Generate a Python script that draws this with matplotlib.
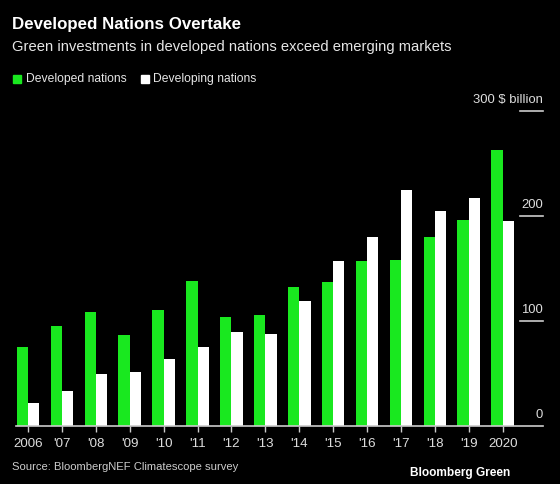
import numpy as np
import matplotlib
matplotlib.use("Agg")
import matplotlib.pyplot as plt

# Data ($ billion)
years = ["2006", "'07", "'08", "'09", "'10", "'11", "'12", "'13",
         "'14", "'15", "'16", "'17", "'18", "'19", "2020"]
developed = [75, 95, 108, 86, 110, 138, 104, 106, 132, 137, 157, 158, 180, 196, 263]
developing = [22, 33, 49, 51, 64, 75, 89, 87, 119, 157, 180, 225, 205, 217, 195]
y_ticks = [0, 100, 200, 300]
y_labels = ["0", "100", "200", "300 $ billion"]

green = "#19e81f"
white = "#ffffff"
bg = "#000000"

plt.rcParams['font.family'] = ['Liberation Sans', 'DejaVu Sans']

fig = plt.figure(figsize=(5.6, 4.85), dpi=100, facecolor=bg)
ax = fig.add_axes([0.0286, 0.1202, 0.941, 0.6489], facecolor=bg)

x = np.arange(len(years))
w = 0.333
ax.bar(x - w / 2, developed, width=w, color=green, linewidth=0)
ax.bar(x + w / 2, developing, width=w, color=white, linewidth=0)

ax.set_xlim(-0.354, 15.19)
ax.set_ylim(0, 300)

for s in ax.spines.values():
    s.set_visible(False)

# short grid stubs + labels on the right
for t, lab in zip(y_ticks, y_labels):
    ax.axhline(t, xmin=0.0 if t == 0 else 0.956, xmax=1, color="#cccccc", lw=1.2, clip_on=False)
    ax.annotate(lab, xy=(1, t), xycoords=("axes fraction", "data"),
                xytext=(0, 4), textcoords="offset points",
                ha="right", va="bottom", color="#dddddd", fontsize=9.4)

ax.set_yticks([])
ax.set_xticks(x)
ax.set_xticklabels(years)
ax.tick_params(axis="x", colors="#cccccc", labelcolor="#dddddd", length=4, width=1,
               labelsize=9.6, pad=4)

# header
fig.text(12 / 560, 1 - 25 / 485, "Developed Nations Overtake", color="white",
         fontsize=12.2, fontweight="bold", va="center", ha="left")
fig.text(12 / 560, 1 - 47 / 485, "Green investments in developed nations exceed emerging markets",
         color="#e6e6e6", fontsize=10.6, va="center", ha="left")

# legend
fig.patches.append(plt.Rectangle((13 / 560, 1 - 83.5 / 485), 8 / 560, 8 / 485,
                                 transform=fig.transFigure, color=green))
fig.text(26 / 560, 1 - 79 / 485, "Developed nations", color="#e6e6e6", fontsize=8.7,
         va="center", ha="left")
fig.patches.append(plt.Rectangle((141 / 560, 1 - 83.5 / 485), 8 / 560, 8 / 485,
                                 transform=fig.transFigure, color=white))
fig.text(153 / 560, 1 - 79 / 485, "Developing nations", color="#e6e6e6", fontsize=8.7,
         va="center", ha="left")

# footer
fig.text(12 / 560, 1 - 467 / 485, "Source: BloombergNEF Climatescope survey",
         color="#cccccc", fontsize=8.1, va="center", ha="left")
fig.text(510 / 560, 1 - 473 / 485, "Bloomberg Green", color="white",
         fontsize=8.6, fontweight="bold", va="center", ha="right")

fig.savefig("out.png", dpi=100, facecolor=bg)
